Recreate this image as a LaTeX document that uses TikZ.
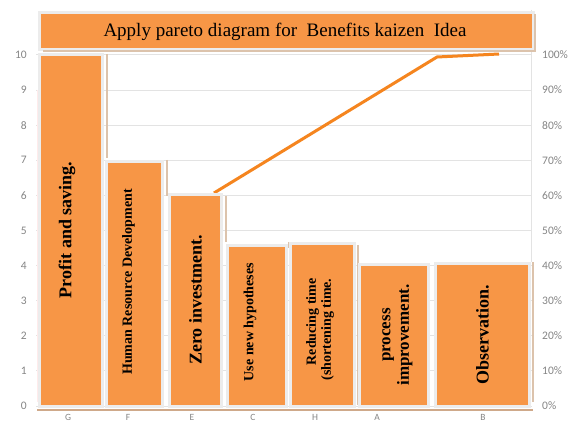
\documentclass[tikz,border=0pt]{standalone}
\usepackage{fontspec}
\setmainfont{Liberation Serif}
\newfontfamily\axisfont{Carlito}
\definecolor{barorange}{HTML}{F79646}
\definecolor{lineorange}{HTML}{F5851F}
\definecolor{gridgrey}{HTML}{E3E3E3}
\definecolor{framegrey}{HTML}{ECECEC}
\definecolor{tanline}{HTML}{DCC3AC}
\definecolor{basebrown}{HTML}{CFA98A}
\definecolor{axisgrey}{HTML}{858585}
\newcommand\pbar[3]{%
  \draw[framegrey, line width=2.5pt] (#1-1.5,#3-1.5) rectangle (#2+1.5,406.5);
  \fill[barorange] (#1,#3) rectangle (#2,405);
}
\begin{document}
\begin{tikzpicture}[x=1pt,y=-1pt,
  axislab/.style={font=\axisfont\fontsize{11.5}{12}\selectfont, text=axisgrey, inner sep=0pt},
  catlab/.style={font=\axisfont\fontsize{9.5}{10}\selectfont, text=axisgrey, inner sep=0pt},
  barlab/.style={rotate=90, inner sep=0pt, text=black},
  grid line/.style={gridgrey, line width=1pt},
  tan edge/.style={tanline, line width=1.2pt},
  cumline/.style={lineorange, line width=3pt, line join=round}]
\useasboundingbox (0,0) rectangle (568,425);
\clip (0,0) rectangle (568,425);
\fill[white] (0,0) rectangle (568,425);

% grid and axes
\foreach \k in {0,...,10}{
  \draw[grid line] (36,{406-35.1*\k}) -- (532,{406-35.1*\k});
  \node[axislab, anchor=east] (yl\k) at (27,{406-35.1*\k}) {\k};
  \pgfmathtruncatemacro\pc{10*\k}
  \node[axislab, anchor=west] (yr\k) at (542,{406-35.1*\k}) {\pc\%};
}
\draw[gridgrey, line width=1pt] (531,10) -- (531,262);
\draw[red!8, line width=1pt] (37,90) -- (37,402);

% tan edges
\draw[tan edge] (107,54) -- (107,158);
\draw[tan edge] (167,160) -- (167,196);
\draw[tan edge] (226,196) -- (226,242);
\draw[tan edge] (289,242) -- (289,248);
\draw[tan edge] (358,245) -- (358,405);
\draw[tan edge] (533,262) -- (533,402);
\draw[basebrown, line width=1.6pt] (37,410) -- (533,410);

% cumulative line
\coordinate (c0) at (214,193);
\coordinate (c1) at (437,57);
\coordinate (c2) at (499,54);
\draw[cumline] (c0) -- (c1) -- (c2);

% bars
\pbar{41}{101}{56}
\pbar{108}{161}{163}
\pbar{171}{220}{196}
\pbar{229}{285}{247}
\pbar{292}{353}{245}
\pbar{361}{427}{266}
\pbar{437}{528}{265}

% title
\draw[framegrey, line width=2.5pt] (39.5,12.5) rectangle (533.5,49.5);
\draw[tanline, line width=1.2pt] (535,14) -- (535,51) -- (43,51);
\fill[barorange] (41,14) rectangle (532,48);
\node[inner sep=0pt, font=\fontsize{19}{22}\selectfont] (title) at (285,32)
  {Apply pareto diagram for\ \ Benefits kaizen\ \ Idea};

% bar labels
\node[barlab, font=\bfseries\fontsize{18}{20}\selectfont] (lg) at (67,230) {Profit and saving.};
\node[barlab, font=\bfseries\fontsize{14}{16}\selectfont] (lf) at (128.5,282) {Human Resource Development};
\node[barlab, font=\bfseries\fontsize{18}{20}\selectfont] (le) at (195.5,300) {Zero investment.};
\node[barlab, font=\bfseries\fontsize{14}{16}\selectfont] (lc) at (250,322) {Use new hypotheses};
\node[barlab, align=right, font=\bfseries\fontsize{14}{15}\selectfont] (lh) at (320,329.5) {Reducing time\\(shortening time.};
\node[barlab, align=center, font=\bfseries\fontsize{17}{18.5}\selectfont] (la) at (397.5,335) {process\\improvement.};
\node[barlab, font=\bfseries\fontsize{18}{20}\selectfont] (lb) at (482.5,335) {Observation.};

% categories
\foreach \cx/\cn in {68/G,128/F,192/E,253/C,315/H,377/A,483/B}{
  \node[catlab, anchor=north] (cat\cn) at (\cx,414.5) {\cn};
}
\end{tikzpicture}
\end{document}
